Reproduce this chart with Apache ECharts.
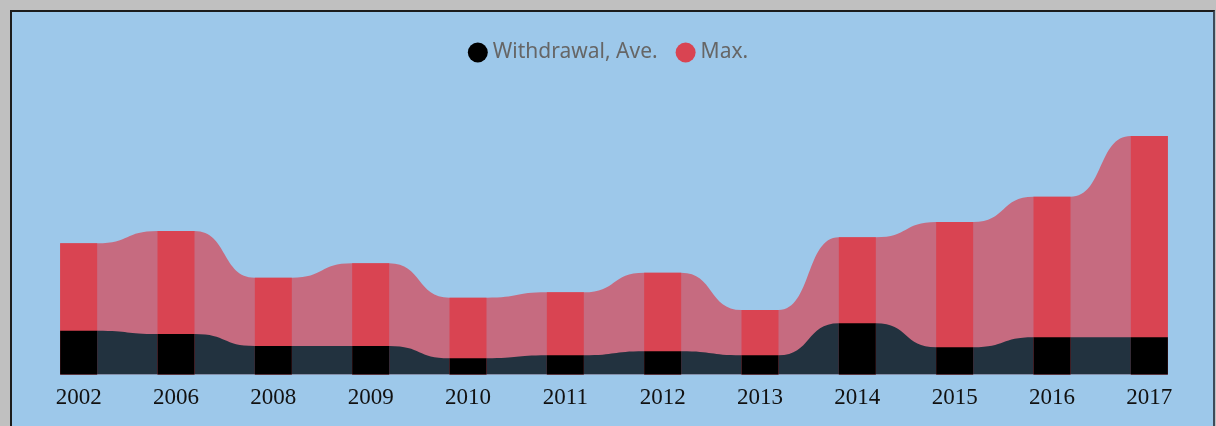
<!DOCTYPE html>
<html>
<head>
<meta charset="utf-8">
<script src="https://cdn.jsdelivr.net/npm/echarts@6/dist/echarts.min.js"></script>
<style>
  html, body { margin: 0; padding: 0; width: 1216px; height: 426px; background: #c0c0c0; overflow: hidden; }
  #panel {
    position: absolute; left: 10px; top: 10px; width: 1201px; height: 414px;
    background: #9dc8ea;
    border-top: 2px solid #1c1c1c; border-left: 2px solid #1c1c1c;
    border-right: 2px solid #3d4b5a; border-bottom: 1px solid #7f9db5;
  }
  #chart { position: absolute; left: 0; top: 0; width: 1216px; height: 426px; }
</style>
</head>
<body>
<div id="panel"></div>
<div id="chart"></div>
<script>
// years on the x axis
var years = ["2002", "2006", "2008", "2009", "2010", "2011", "2012", "2013", "2014", "2015", "2016", "2017"];
// withdrawal, average
var aveValues = [43.8, 40.5, 28.5, 28.5, 16.2, 19.2, 23.2, 19.2, 51.2, 27.2, 37.2, 37.2];
// withdrawal, maximum
var maxValues = [131.2, 143.5, 96.8, 111.2, 76.8, 82.2, 101.8, 64.5, 137.2, 152.5, 177.8, 238.5];

var barShare = 0.38; // bar width as part of a category band

// ribbon points: flat across each bar, curved in between
function ribbon(values) {
  var pts = [];
  values.forEach(function(v, i) {
    pts.push([i - barShare / 2, v]);
    pts.push([i + barShare / 2, v]);
  });
  return pts;
}

var chart = echarts.init(document.getElementById("chart"), null, { renderer: "canvas" });

var option = {
  animation: false,
  backgroundColor: "transparent",
  legend: {
    top: 37,
    left: "center",
    icon: "circle",
    itemWidth: 20,
    itemHeight: 20,
    itemGap: 18,
    data: ["Withdrawal, Ave.", "Max."],
    textStyle: {
      color: "#666",
      fontSize: 21,
      fontFamily: "Noto Sans",
      padding: [0, 0, 0, 0]
    }
  },
  grid: {
    left: 30,
    right: 18,
    top: 124.5,
    bottom: 51.5
  },
  xAxis: [
    {
      type: "category",
      data: years,
      axisLine: { show: false },
      axisTick: { show: false },
      axisLabel: {
        margin: 12,
        color: "#111",
        fontSize: 23,
        fontFamily: "Liberation Serif"
      }
    },
    {
      type: "value",
      min: -0.5,
      max: 11.5,
      show: false
    }
  ],
  yAxis: {
    type: "value",
    min: 0,
    max: 250,
    show: false
  },
  series: [
    {
      name: "maxRibbon",
      type: "line",
      xAxisIndex: 1,
      z: 1,
      data: ribbon(maxValues),
      smooth: 0.55,
      smoothMonotone: "x",
      symbol: "none",
      silent: true,
      lineStyle: { width: 0 },
      areaStyle: { color: "#c66b80", opacity: 1 }
    },
    {
      name: "aveRibbon",
      type: "line",
      xAxisIndex: 1,
      z: 1,
      data: ribbon(aveValues),
      smooth: 0.55,
      smoothMonotone: "x",
      symbol: "none",
      silent: true,
      lineStyle: { width: 0 },
      areaStyle: { color: "#22323f", opacity: 1 }
    },
    {
      name: "Max.",
      type: "bar",
      z: 2,
      data: maxValues,
      barWidth: barShare * 100 + "%",
      barGap: "-100%",
      itemStyle: { color: "#d94452" }
    },
    {
      name: "Withdrawal, Ave.",
      type: "bar",
      z: 2,
      data: aveValues,
      barWidth: barShare * 100 + "%",
      barGap: "-100%",
      itemStyle: { color: "#000000" }
    }
  ]
};

chart.setOption(option);
</script>
</body>
</html>
